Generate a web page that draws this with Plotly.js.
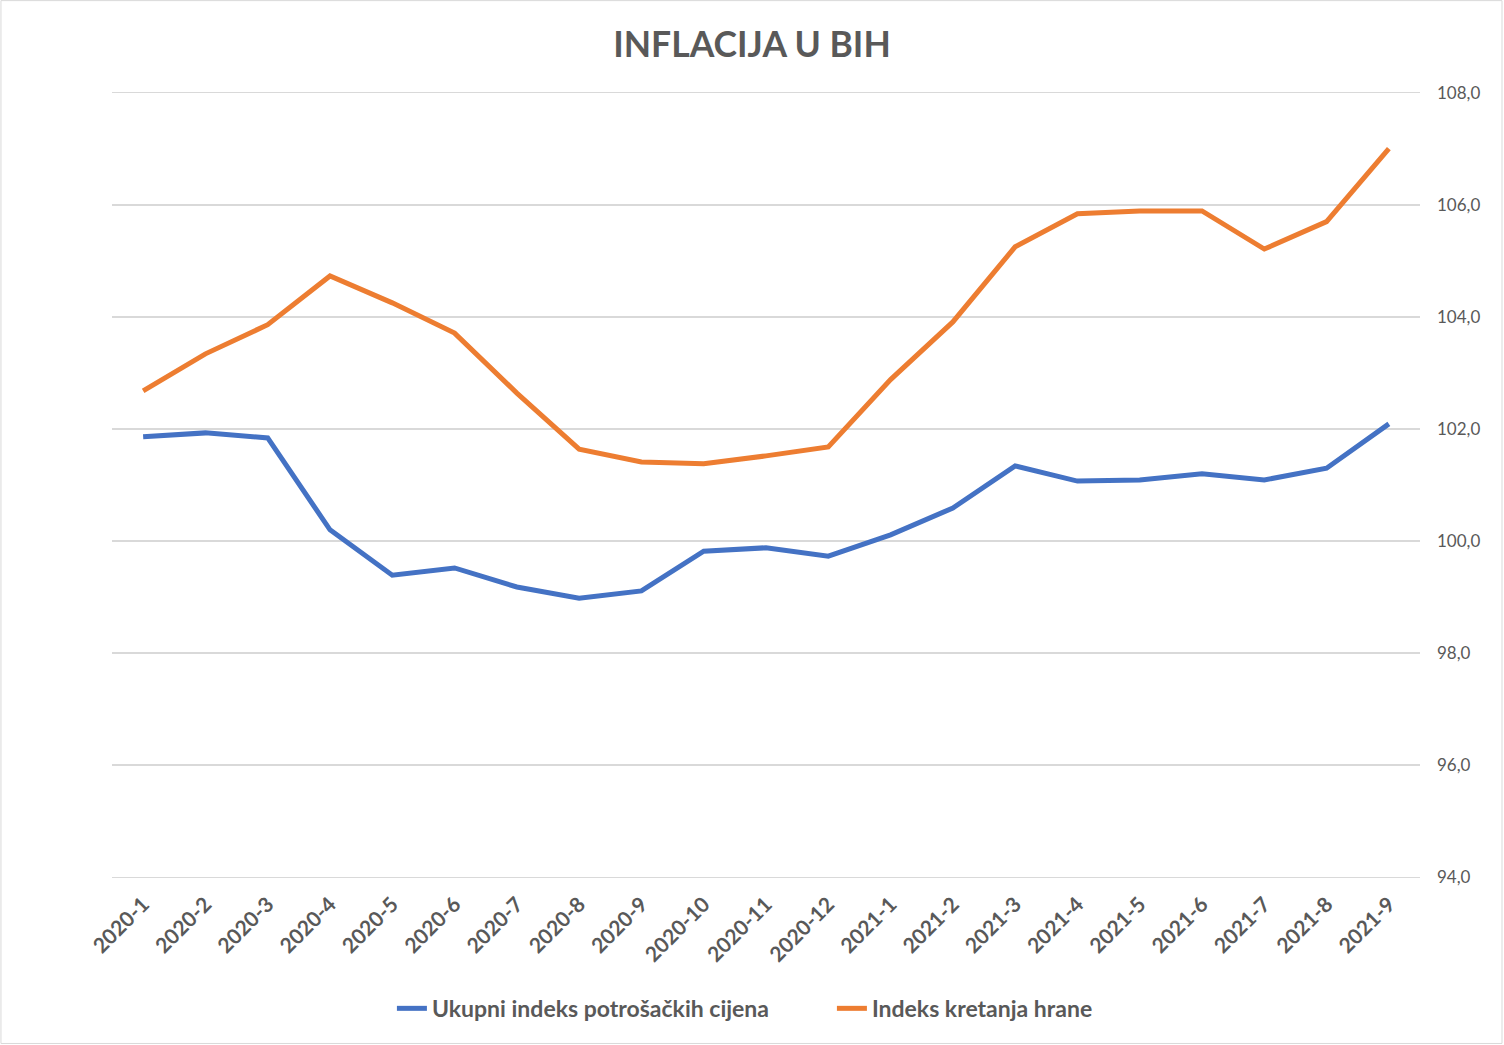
<!DOCTYPE html>
<html>
<head>
<meta charset="utf-8">
<script src="https://cdn.plot.ly/plotly-3.0.1.min.js"></script>
<style>html,body{margin:0;padding:0;background:#fff;}#chart{width:1504px;height:1045px;}</style>
</head>
<body>
<div id="chart"></div>
<script>
var categories = ["2020-1","2020-2","2020-3","2020-4","2020-5","2020-6","2020-7","2020-8","2020-9","2020-10","2020-11","2020-12","2021-1","2021-2","2021-3","2021-4","2021-5","2021-6","2021-7","2021-8","2021-9"];
var ukupniIndeks = [101.86,101.93,101.84,100.20,99.39,99.52,99.18,98.98,99.11,99.82,99.88,99.73,100.11,100.59,101.34,101.07,101.09,101.20,101.09,101.30,102.09];
var indeksHrane = [102.68,103.34,103.86,104.73,104.25,103.71,102.64,101.64,101.41,101.38,101.52,101.68,102.88,103.91,105.25,105.84,105.89,105.89,105.21,105.70,107.00];
var yTicks = [94,96,98,100,102,104,106,108];
var yTickText = ["94,0","96,0","98,0","100,0","102,0","104,0","106,0","108,0"];

var gray = "#595959";
var traces = [
  {x: categories, y: ukupniIndeks, type: "scatter", mode: "lines", name: "Ukupni indeks potrošačkih cijena",
   line: {color: "#4472C4", width: 5}},
  {x: categories, y: indeksHrane, type: "scatter", mode: "lines", name: "Indeks kretanja hrane",
   line: {color: "#ED7D31", width: 5}}
];
var layout = {
  width: 1504, height: 1045,
  margin: {l: 112, r: 84, t: 91.32, b: 166.32},
  paper_bgcolor: "#fff", plot_bgcolor: "#fff",
  font: {family: "Lato, 'Open Sans', sans-serif", color: gray},
  title: {text: "<b>INFLACIJA U BIH</b>", x: 0.5, xanchor: "center", y: 0.957, yanchor: "middle",
          font: {size: 35.5, color: gray, family: "Lato, 'Open Sans', sans-serif"}},
  xaxis: {type: "category", tickangle: -45, showgrid: false, zeroline: false, showline: false,
          ticks: "", ticklabelstandoff: 8, tickfont: {size: 21, color: gray, family: "Lato, sans-serif", weight: "bold"},
          range: [-0.5, 20.5]},
  yaxis: {side: "right", range: [93.97, 108.03], tickvals: yTicks, ticktext: yTickText,
          showgrid: true, gridcolor: "#d9d9d9", gridwidth: 1.5, zeroline: false, showline: false,
          ticks: "", ticklabelstandoff: 16, tickfont: {size: 17, color: gray}},
  showlegend: true,
  legend: {orientation: "h", x: 0.214, xanchor: "left", y: -0.1642, yanchor: "middle",
           font: {size: 23, color: gray, weight: "bold"}, entrywidth: 395, entrywidthmode: "pixels"},
  shapes: [{type: "rect", xref: "paper", yref: "paper", x0: -0.0849, x1: 1.0627, y0: -0.2087, y1: 1.1147,
            line: {color: "#d9d9d9", width: 1}, layer: "below"}]
};
Plotly.newPlot("chart", traces, layout, {displayModeBar: false, staticPlot: true});
</script>
</body>
</html>
